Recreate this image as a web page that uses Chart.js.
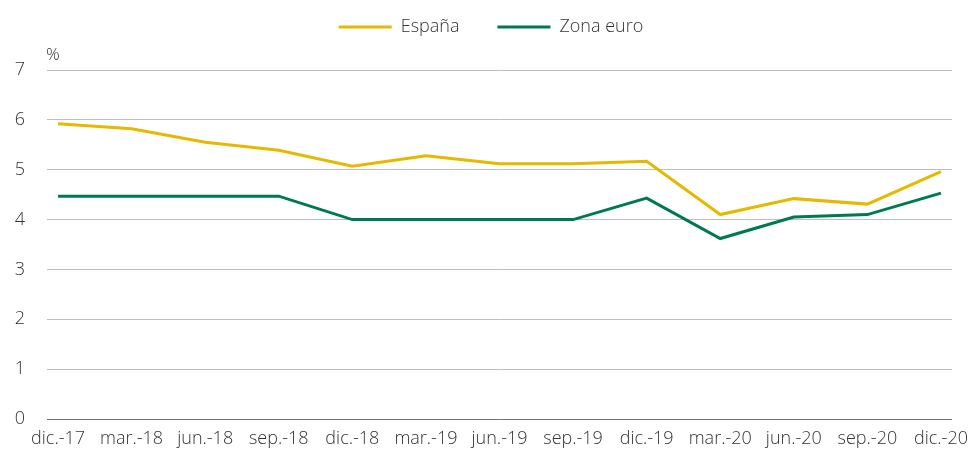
<!DOCTYPE html>
<html>
<head>
<meta charset="utf-8">
<script src="https://cdn.jsdelivr.net/npm/chart.js@4/dist/chart.umd.min.js"></script>
<style>
  html, body { margin: 0; padding: 0; background: #fff; }
  #wrap { width: 968px; height: 450px; }
</style>
</head>
<body>
<div id="wrap"><canvas id="chart"></canvas></div>
<script>
const labels = ['dic.-17', 'mar.-18', 'jun.-18', 'sep.-18', 'dic.-18', 'mar.-19', 'jun.-19',
                'sep.-19', 'dic.-19', 'mar.-20', 'jun.-20', 'sep.-20', 'dic.-20'];
const espana = [5.92, 5.82, 5.55, 5.39, 5.07, 5.28, 5.12, 5.12, 5.17, 4.1, 4.42, 4.31, 4.96];
const zonaEuro = [4.47, 4.47, 4.47, 4.47, 4.0, 4.0, 4.0, 4.0, 4.43, 3.62, 4.05, 4.1, 4.53];
const yTicks = [0, 1, 2, 3, 4, 5, 6, 7];

const yellow = '#e6b800';
const green = '#007a4d';
const textColor = '#333333';
const font = { family: "'Open Sans', sans-serif", size: 18, weight: '300' };

function toPoints(values) {
    return values.map((v, i) => ({ x: i, y: v }));
}

// "%" label above the y axis
const unitLabel = {
    id: 'unitLabel',
    afterDraw(chart) {
        const ctx = chart.ctx;
        ctx.save();
        ctx.fillStyle = textColor;
        ctx.font = "300 17px 'Open Sans', sans-serif";
        ctx.textBaseline = 'alphabetic';
        ctx.fillText('%', chart.chartArea.left - 1, chart.chartArea.top - 10);
        ctx.restore();
    }
};

// legend needs more room below it, and sits a bit right of centre
const legendSpace = {
    id: 'legendSpace',
    afterInit(chart) {
        const lg = chart.legend;
        const fit = lg.fit.bind(lg);
        const draw = lg.draw.bind(lg);
        lg.fit = function () {
            fit();
            this.height = 90;
        };
        lg.draw = function () {
            chart.ctx.save();
            chart.ctx.translate(15, 0);
            draw();
            chart.ctx.restore();
        };
    }
};

const ctx = document.getElementById('chart');
const myChart = new Chart(ctx, {
    type: 'line',
    data: {
        datasets: [{
            label: 'España',
            data: toPoints(espana),
            borderColor: yellow,
            backgroundColor: yellow,
            borderWidth: 3,
            pointRadius: 0,
            tension: 0
        }, {
            label: 'Zona euro',
            data: toPoints(zonaEuro),
            borderColor: green,
            backgroundColor: green,
            borderWidth: 3,
            pointRadius: 0,
            tension: 0
        }]
    },
    options: {
        responsive: true,
        maintainAspectRatio: false,
        animation: false,
        layout: { padding: { top: -20, right: 16, left: 0, bottom: 0 } },
        plugins: {
            tooltip: { enabled: false },
            legend: {
                position: 'top',
                labels: {
                    color: textColor,
                    font: font,
                    boxWidth: 53,
                    boxHeight: 3,
                    padding: 38,
                    generateLabels(chart) {
                        return Chart.defaults.plugins.legend.labels.generateLabels(chart)
                            .map(item => Object.assign(item, { lineWidth: 0 }));
                    }
                }
            }
        },
        scales: {
            x: {
                type: 'linear',
                min: -0.15,
                max: 12.15,
                afterBuildTicks(scale) {
                    scale.ticks = labels.map((_, i) => ({ value: i }));
                },
                afterFit(scale) {
                    scale.height = 31;
                    scale.paddingLeft = 0;
                    scale.paddingRight = 0;
                },
                ticks: {
                    color: textColor,
                    font: font,
                    autoSkip: false,
                    maxRotation: 0,
                    padding: 9,
                    callback: (value) => labels[value]
                },
                grid: { display: false, drawTicks: false },
                border: { display: false }
            },
            y: {
                min: 0,
                max: 7,
                afterBuildTicks(scale) {
                    scale.ticks = yTicks.map(v => ({ value: v }));
                },
                afterFit(scale) {
                    scale.width = 47;
                    scale.paddingTop = 0;
                    scale.paddingBottom = 0;
                },
                ticks: {
                    color: textColor,
                    font: font,
                    padding: 22
                },
                grid: {
                    color: (c) => c.tick && c.tick.value === 0 ? '#707070' : '#bdbdbd',
                    lineWidth: 1,
                    drawTicks: false
                },
                border: { display: false }
            }
        }
    },
    plugins: [unitLabel, legendSpace]
});
</script>
</body>
</html>
